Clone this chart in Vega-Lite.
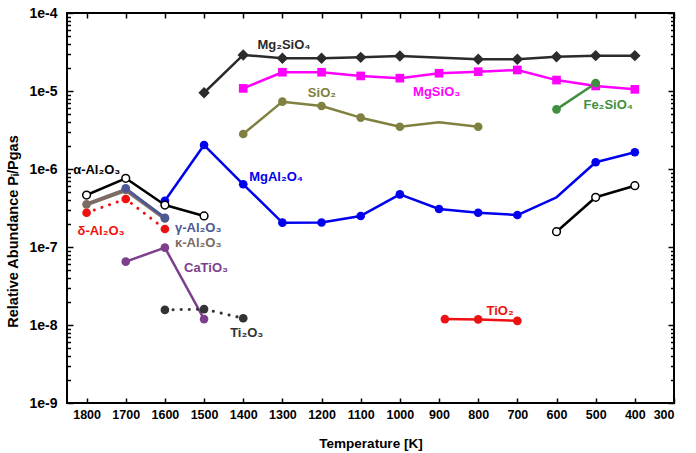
{
  "$schema": "https://vega.github.io/schema/vega-lite/v6.json",
  "width": 607,
  "height": 390,
  "autosize": {"type": "none"},
  "padding": {"left": 67, "top": 13, "right": 22, "bottom": 50},
  "config": {
    "view": {"stroke": "black", "strokeWidth": 2},
    "font": "Liberation Sans",
    "axis": {
      "domain": false,
      "tickColor": "black",
      "tickWidth": 1.5,
      "grid": false,
      "labelFont": "Liberation Sans",
      "labelFontWeight": "bold",
      "labelColor": "black",
      "titleFont": "Liberation Sans",
      "titleFontWeight": "bold",
      "titleColor": "black",
      "titleFontSize": 13.5
    }
  },
  "datasets": {
    "pts": [
      {"s": "Mg2SiO4", "T": 1500, "v": 9.5e-6},
      {"s": "Mg2SiO4", "T": 1400, "v": 2.9e-5},
      {"s": "Mg2SiO4", "T": 1300, "v": 2.63e-5},
      {"s": "Mg2SiO4", "T": 1200, "v": 2.63e-5},
      {"s": "Mg2SiO4", "T": 1100, "v": 2.7e-5},
      {"s": "Mg2SiO4", "T": 1000, "v": 2.81e-5},
      {"s": "Mg2SiO4", "T": 800, "v": 2.55e-5},
      {"s": "Mg2SiO4", "T": 700, "v": 2.55e-5},
      {"s": "Mg2SiO4", "T": 600, "v": 2.75e-5},
      {"s": "Mg2SiO4", "T": 500, "v": 2.84e-5},
      {"s": "Mg2SiO4", "T": 400, "v": 2.84e-5},
      {"s": "MgSiO3", "T": 1400, "v": 1.08e-5},
      {"s": "MgSiO3", "T": 1300, "v": 1.74e-5},
      {"s": "MgSiO3", "T": 1200, "v": 1.74e-5},
      {"s": "MgSiO3", "T": 1100, "v": 1.56e-5},
      {"s": "MgSiO3", "T": 1000, "v": 1.46e-5},
      {"s": "MgSiO3", "T": 900, "v": 1.69e-5},
      {"s": "MgSiO3", "T": 800, "v": 1.77e-5},
      {"s": "MgSiO3", "T": 700, "v": 1.86e-5},
      {"s": "MgSiO3", "T": 600, "v": 1.38e-5},
      {"s": "MgSiO3", "T": 500, "v": 1.16e-5},
      {"s": "MgSiO3", "T": 400, "v": 1.05e-5},
      {"s": "SiO2", "T": 1400, "v": 2.81e-6},
      {"s": "SiO2", "T": 1300, "v": 7.3e-6},
      {"s": "SiO2", "T": 1200, "v": 6.43e-6},
      {"s": "SiO2", "T": 1100, "v": 4.55e-6},
      {"s": "SiO2", "T": 1000, "v": 3.48e-6},
      {"s": "SiO2", "T": 900, "v": 3.97e-6},
      {"s": "SiO2", "T": 800, "v": 3.48e-6},
      {"s": "Fe2SiO4", "T": 600, "v": 5.82e-6},
      {"s": "Fe2SiO4", "T": 500, "v": 1.26e-5},
      {"s": "MgAl2O4", "T": 1600, "v": 3.92e-7},
      {"s": "MgAl2O4", "T": 1500, "v": 2.03e-6},
      {"s": "MgAl2O4", "T": 1400, "v": 6.37e-7},
      {"s": "MgAl2O4", "T": 1300, "v": 2.05e-7},
      {"s": "MgAl2O4", "T": 1200, "v": 2.06e-7},
      {"s": "MgAl2O4", "T": 1100, "v": 2.5e-7},
      {"s": "MgAl2O4", "T": 1000, "v": 4.73e-7},
      {"s": "MgAl2O4", "T": 900, "v": 3.07e-7},
      {"s": "MgAl2O4", "T": 800, "v": 2.75e-7},
      {"s": "MgAl2O4", "T": 700, "v": 2.57e-7},
      {"s": "MgAl2O4", "T": 600, "v": 4.34e-7},
      {"s": "MgAl2O4", "T": 500, "v": 1.22e-6},
      {"s": "MgAl2O4", "T": 400, "v": 1.64e-6},
      {"s": "aAl2O3", "T": 1800, "v": 4.64e-7},
      {"s": "aAl2O3", "T": 1700, "v": 7.6e-7},
      {"s": "aAl2O3", "T": 1600, "v": 3.45e-7},
      {"s": "aAl2O3", "T": 1500, "v": 2.5e-7},
      {"s": "aAl2O3low", "T": 600, "v": 1.57e-7},
      {"s": "aAl2O3low", "T": 500, "v": 4.34e-7},
      {"s": "aAl2O3low", "T": 400, "v": 6.1e-7},
      {"s": "kAl2O3", "T": 1800, "v": 3.52e-7},
      {"s": "kAl2O3", "T": 1700, "v": 5.38e-7},
      {"s": "kAl2O3", "T": 1600, "v": 2.33e-7},
      {"s": "gAl2O3", "T": 1700, "v": 5.65e-7},
      {"s": "gAl2O3", "T": 1600, "v": 2.36e-7},
      {"s": "dAl2O3", "T": 1800, "v": 2.75e-7},
      {"s": "dAl2O3", "T": 1700, "v": 4.12e-7},
      {"s": "dAl2O3", "T": 1600, "v": 1.7e-7},
      {"s": "CaTiO3", "T": 1700, "v": 6.49e-8},
      {"s": "CaTiO3", "T": 1600, "v": 9.8e-8},
      {"s": "CaTiO3", "T": 1500, "v": 1.19e-8},
      {"s": "Ti2O3", "T": 1600, "v": 1.56e-8},
      {"s": "Ti2O3", "T": 1500, "v": 1.6e-8},
      {"s": "Ti2O3", "T": 1400, "v": 1.22e-8},
      {"s": "TiO2", "T": 885, "v": 1.19e-8},
      {"s": "TiO2", "T": 800, "v": 1.18e-8},
      {"s": "TiO2", "T": 700, "v": 1.13e-8}
    ],
    "labels": [
      {"s": "Mg2SiO4", "T": 1296, "v": 3.9e-5, "label": "Mg₂SiO₄"},
      {"s": "MgSiO3", "T": 906, "v": 9.8e-6, "label": "MgSiO₃"},
      {"s": "SiO2", "T": 1199, "v": 9.35e-6, "label": "SiO₂"},
      {"s": "Fe2SiO4", "T": 468, "v": 6.6e-6, "label": "Fe₂SiO₄"},
      {"s": "MgAl2O4", "T": 1316, "v": 7.83e-7, "label": "MgAl₂O₄"},
      {"s": "aAl2O3", "T": 1774, "v": 9.7e-7, "label": "α-Al₂O₃"},
      {"s": "dAl2O3", "T": 1763, "v": 1.6e-7, "label": "δ-Al₂O₃"},
      {"s": "gAl2O3", "T": 1515, "v": 1.76e-7, "label": "γ-Al₂O₃"},
      {"s": "kAl2O3", "T": 1515, "v": 1.12e-7, "label": "κ-Al₂O₃"},
      {"s": "CaTiO3", "T": 1495, "v": 5.33e-8, "label": "CaTiO₃"},
      {"s": "Ti2O3", "T": 1391, "v": 7.83e-9, "label": "Ti₂O₃"},
      {"s": "TiO2", "T": 744, "v": 1.52e-8, "label": "TiO₂"}
    ]
  },
  "layer": [
    {
      "data": {"name": "pts"},
      "transform": [{"filter": "datum.s != 'dAl2O3' && datum.s != 'Ti2O3'"}],
      "mark": {"type": "line", "strokeJoin": "round"},
      "encoding": {
        "x": {"field": "T", "type": "quantitative", "scale": {"domain": [300, 1850], "reverse": true, "nice": false, "zero": false},
          "axis": {"orient": "bottom", "offset": -5, "values": [1800, 1700, 1600, 1500, 1400, 1300, 1200, 1100, 1000, 900, 800, 700, 600, 500, 400, 300], "title": "Temperature [K]", "labelFontSize": 12.5, "tickSize": 5, "labelPadding": 5, "titlePadding": 16, "format": "d"}},
        "y": {"field": "v", "type": "quantitative", "scale": {"type": "log", "domain": [1e-9, 1e-4], "nice": false},
          "axis": {"orient": "left", "offset": -6, "values": [1e-9,2e-9,3e-9,4e-9,5e-9,6e-9,7e-9,8e-9,9e-9,1e-8,2e-8,3e-8,4e-8,5e-8,6e-8,7e-8,8e-8,9e-8,1e-7,2e-7,3e-7,4e-7,5e-7,6e-7,7e-7,8e-7,9e-7,1e-6,2e-6,3e-6,4e-6,5e-6,6e-6,7e-6,8e-6,9e-6,1e-5,2e-5,3e-5,4e-5,5e-5,6e-5,7e-5,8e-5,9e-5,1e-4],
            "labelExpr": "abs(log(datum.value)/LN10 - round(log(datum.value)/LN10)) < 0.001 ? '1e' + round(log(datum.value)/LN10) : ''",
            "labelOverlap": false, "labelFontSize": 14, "labelPadding": 10,
            "tickSize": 6,
            "tickDash": {"condition": {"test": "abs(log(datum.value)/LN10 - round(log(datum.value)/LN10)) < 0.001", "value": [10, 0]}, "value": [0, 2.5, 3.5, 10]},
            "title": "Relative Abundance Pᵢ/Pgas", "titleFontSize": 14.5, "titlePadding": 8, "titleY": 218}},
        "color": {"field": "s", "type": "nominal", "legend": null,
          "scale": {"domain": ["Mg2SiO4","MgSiO3","SiO2","Fe2SiO4","MgAl2O4","aAl2O3","aAl2O3low","kAl2O3","gAl2O3","dAl2O3","CaTiO3","Ti2O3","TiO2"],
                    "range": ["#2b2b2b","#ff00ff","#808040","#3f8f3f","#0000ee","#000000","#000000","#7b6b63","#4c5896","#ee1111","#7d3f8c","#333333","#ee1111"]}},
        "strokeWidth": {"condition": {"test": "datum.s == 'kAl2O3'", "value": 4}, "value": 2.5}
      }
    },
    {
      "data": {"name": "pts"},
      "transform": [{"filter": "datum.s == 'dAl2O3' || datum.s == 'Ti2O3'"}],
      "mark": {"type": "line", "strokeWidth": 3, "strokeDash": [0.1, 8], "strokeCap": "round"},
      "encoding": {
        "x": {"field": "T", "type": "quantitative", "scale": {"domain": [300, 1850], "reverse": true, "nice": false, "zero": false}, "axis": null},
        "y": {"field": "v", "type": "quantitative", "scale": {"type": "log", "domain": [1e-9, 1e-4], "nice": false}, "axis": null},
        "color": {"field": "s", "type": "nominal", "legend": null}
      }
    },
    {
      "data": {"name": "pts"},
      "transform": [{"filter": "datum.s != 'aAl2O3' && datum.s != 'aAl2O3low' && !(datum.s == 'SiO2' && datum.T == 900) && !(datum.s == 'MgAl2O4' && datum.T == 600)"}],
      "mark": {"type": "point", "filled": true, "opacity": 1},
      "encoding": {
        "x": {"field": "T", "type": "quantitative", "scale": {"domain": [300, 1850], "reverse": true, "nice": false, "zero": false}, "axis": null},
        "y": {"field": "v", "type": "quantitative", "scale": {"type": "log", "domain": [1e-9, 1e-4], "nice": false}, "axis": null},
        "color": {"field": "s", "type": "nominal", "legend": null},
        "shape": {"field": "s", "type": "nominal", "legend": null,
          "scale": {"domain": ["Mg2SiO4","MgSiO3","SiO2","Fe2SiO4","MgAl2O4","kAl2O3","gAl2O3","dAl2O3","CaTiO3","Ti2O3","TiO2"],
                    "range": ["diamond","square","circle","circle","circle","circle","circle","circle","circle","circle","circle"]}},
        "size": {"condition": {"test": "datum.s == 'Mg2SiO4'", "value": 130}, "value": 75}
      }
    },
    {
      "data": {"name": "pts"},
      "transform": [{"filter": "datum.s == 'aAl2O3' || datum.s == 'aAl2O3low'"}],
      "mark": {"type": "point", "shape": "circle", "filled": false, "fill": "white", "fillOpacity": 1, "stroke": "black", "strokeWidth": 1.5, "size": 60, "opacity": 1},
      "encoding": {
        "x": {"field": "T", "type": "quantitative", "scale": {"domain": [300, 1850], "reverse": true, "nice": false, "zero": false}, "axis": null},
        "y": {"field": "v", "type": "quantitative", "scale": {"type": "log", "domain": [1e-9, 1e-4], "nice": false}, "axis": null}
      }
    },
    {
      "data": {"name": "labels"},
      "mark": {"type": "text", "fontWeight": "bold", "fontSize": 13, "align": "center", "baseline": "middle", "font": "Liberation Sans"},
      "encoding": {
        "x": {"field": "T", "type": "quantitative", "scale": {"domain": [300, 1850], "reverse": true, "nice": false, "zero": false}, "axis": null},
        "y": {"field": "v", "type": "quantitative", "scale": {"type": "log", "domain": [1e-9, 1e-4], "nice": false}, "axis": null},
        "text": {"field": "label"},
        "color": {"field": "s", "type": "nominal", "legend": null}
      }
    },
    {
      "data": {"name": "pts"},
      "mark": {"type": "point", "opacity": 0},
      "encoding": {
        "x": {"field": "T", "type": "quantitative", "scale": {"domain": [300, 1850], "reverse": true, "nice": false, "zero": false},
          "axis": {"orient": "top", "offset": -5, "values": [1800, 1700, 1600, 1500, 1400, 1300, 1200, 1100, 1000, 900, 800, 700, 600, 500, 400, 300], "labels": false, "title": null, "tickSize": 5}},
        "y": {"field": "v", "type": "quantitative", "scale": {"type": "log", "domain": [1e-9, 1e-4], "nice": false},
          "axis": {"orient": "right", "offset": -6, "values": [1e-9,2e-9,3e-9,4e-9,5e-9,6e-9,7e-9,8e-9,9e-9,1e-8,2e-8,3e-8,4e-8,5e-8,6e-8,7e-8,8e-8,9e-8,1e-7,2e-7,3e-7,4e-7,5e-7,6e-7,7e-7,8e-7,9e-7,1e-6,2e-6,3e-6,4e-6,5e-6,6e-6,7e-6,8e-6,9e-6,1e-5,2e-5,3e-5,4e-5,5e-5,6e-5,7e-5,8e-5,9e-5,1e-4],
            "labels": false, "title": null, "tickSize": 6,
            "tickDash": {"condition": {"test": "abs(log(datum.value)/LN10 - round(log(datum.value)/LN10)) < 0.001", "value": [10, 0]}, "value": [0, 2.5, 3.5, 10]}}}
      }
    }
  ],
  "resolve": {"axis": {"x": "independent", "y": "independent"}}
}
